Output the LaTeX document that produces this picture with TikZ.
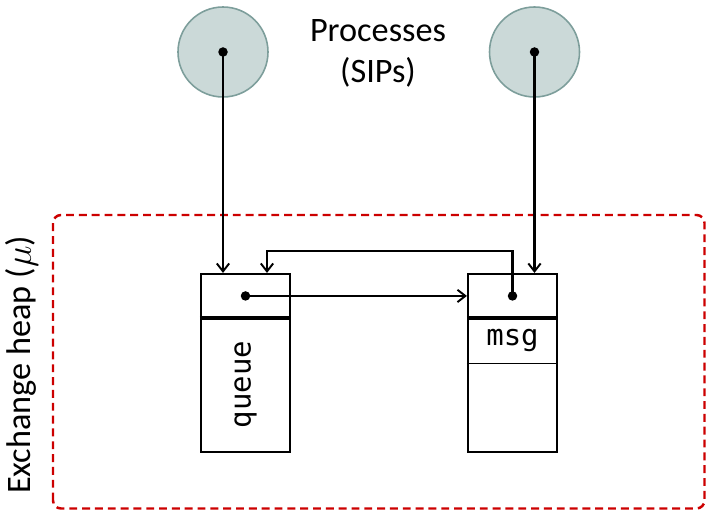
\documentclass[tikz,border=0pt]{standalone}
\usepackage{fontspec}
\setmainfont{Carlito}
\setmonofont{DejaVu Sans Mono}
\usetikzlibrary{positioning,arrows.meta}
\definecolor{procfill}{RGB}{203,217,216}
\definecolor{procline}{RGB}{125,158,155}
\definecolor{heapred}{RGB}{204,0,0}
\tikzset{
    proc/.style={circle, minimum size=1.8cm, inner sep=0pt, fill=procfill, draw=procline, line width=0.9pt},
    dot/.style={circle, fill=black, inner sep=0pt, minimum size=0.19cm},
    objbox/.style={rectangle, draw, line width=1.2pt, minimum width=1.78cm, minimum height=3.56cm, inner sep=0pt},
    link/.style={-{Straight Barb[length=4.5pt,width=7pt,line width=1.1pt]}, line width=1.2pt},
    heap/.style={draw=heapred, line width=1.4pt, dash pattern=on 4.5pt off 2.8pt, rounded corners=0.16cm},
}
\begin{document}
\begin{tikzpicture}
    \useasboundingbox (0,0) rectangle (14.12,10.22);

    % 交换堆区域
    \draw[heap] (1.06,0.05) rectangle (14.09,5.92);
    \node[rotate=90, font=\fontsize{19.5}{22}\selectfont] (heaplbl) at (0.44,2.92) {Exchange heap (\(\mu\))};

    % 进程
    \node[proc] (pA) at (4.46,9.18) {};
    \node[proc] (pB) at (10.69,9.18) {};
    \node[dot] (dA) at (pA.center) {};
    \node[dot] (dB) at (pB.center) {};
    \node[align=center, font=\fontsize{19.5}{23}\selectfont] (plbl) at (7.56,9.15) {Processes\\(SIPs)};

    % 堆中的两个对象
    \node[objbox] (qbox) at (4.91,2.96) {};
    \node[objbox] (mbox) at (10.25,2.96) {};
    \draw[line width=1.8pt] ([yshift=-0.9cm]qbox.north west) -- ([yshift=-0.9cm]qbox.north east);
    \draw[line width=1.8pt] ([yshift=-0.9cm]mbox.north west) -- ([yshift=-0.9cm]mbox.north east);
    \draw[line width=0.4pt] ([yshift=-1.8cm]mbox.north west) -- ([yshift=-1.8cm]mbox.north east);

    \node[dot] (qdot) at ([yshift=-0.46cm]qbox.north) {};
    \node[dot] (mdot) at ([yshift=-0.46cm]mbox.north) {};
    \node[font=\ttfamily\fontsize{16.5}{18}\selectfont] (msglbl) at ([yshift=-1.35cm]mbox.north) {msg};
    \node[rotate=90, font=\ttfamily\fontsize{16.5}{18}\selectfont] (qlbl) at ([yshift=-2.23cm]qbox.north) {queue};

    % 指针
    \draw[link] (dA.center) -- (dA |- qbox.north);
    \draw[link] (dB.center) -- (dB |- qbox.north);
    \draw[link] (qdot.center) -- (qdot -| mbox.west);
    \draw[link] (mdot.center) -- ++(0,0.9) -| ([xshift=0.43cm]qbox.north);
\end{tikzpicture}
\end{document}
